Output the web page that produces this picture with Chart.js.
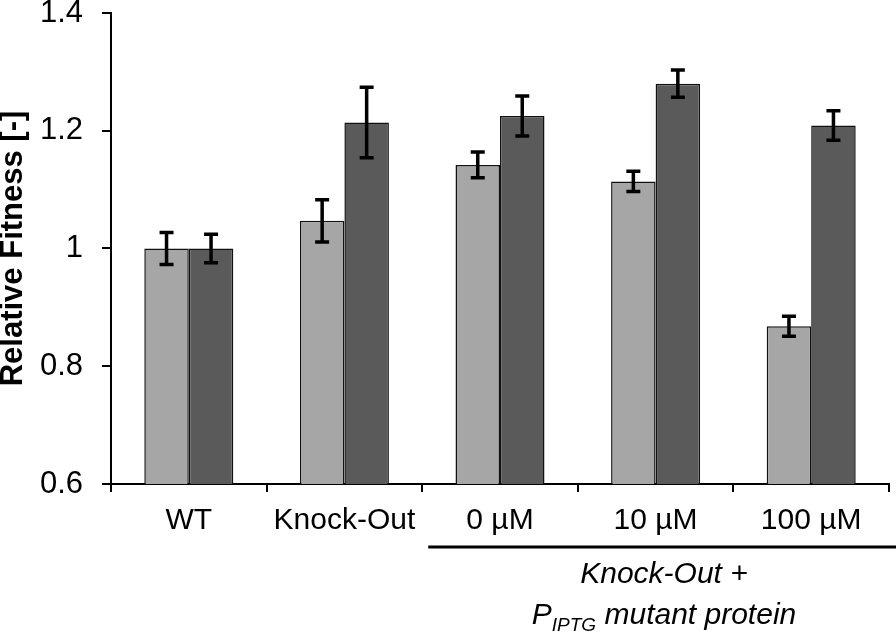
<!DOCTYPE html>
<html>
<head>
<meta charset="utf-8">
<script src="https://cdn.jsdelivr.net/npm/chart.js@4"></script>
<style>
  body { margin: 0; background: #fff; }
  #wrap { width: 896px; height: 637px; position: relative; }
</style>
</head>
<body>
<div id="wrap"><canvas id="fitChart"></canvas></div>
<script>
// data
var labels = ["WT", "Knock-Out", "0 µM", "10 µM", "100 µM"];
var lightVals = [1.0, 1.047, 1.142, 1.114, 0.868];
var lightErr = [0.027, 0.036, 0.022, 0.017, 0.017];
var darkVals = [1.0, 1.214, 1.225, 1.28, 1.209];
var darkErr = [0.024, 0.060, 0.034, 0.023, 0.025];
var yTicks = [0.6, 0.8, 1.0, 1.2, 1.4];

var FONT = "'Liberation Sans', Arial, sans-serif";

// error bars, drawn from the value scale
var errorBars = {
    id: "errorBars",
    afterDatasetsDraw: function(chart) {
        var ctx = chart.ctx;
        var y = chart.scales.y;
        var errs = [lightErr, darkErr];
        ctx.save();
        ctx.strokeStyle = "#000";
        ctx.lineWidth = 3.5;
        chart.data.datasets.forEach(function(ds, i) {
            chart.getDatasetMeta(i).data.forEach(function(bar, j) {
                var v = ds.data[j];
                var top = y.getPixelForValue(v + errs[i][j]);
                var bot = y.getPixelForValue(v - errs[i][j]);
                ctx.beginPath();
                ctx.moveTo(bar.x, top);
                ctx.lineTo(bar.x, bot);
                ctx.moveTo(bar.x - 7, top);
                ctx.lineTo(bar.x + 7, top);
                ctx.moveTo(bar.x - 7, bot);
                ctx.lineTo(bar.x + 7, bot);
                ctx.stroke();
            });
        });
        ctx.restore();
    }
};

// bracket line + italic group caption under the three concentration groups
var groupNote = {
    id: "groupNote",
    afterDraw: function(chart) {
        var ctx = chart.ctx;
        var x = chart.scales.x;
        var step = x.getPixelForValue(1) - x.getPixelForValue(0);
        var x0 = x.getPixelForValue(2) - step / 2 + 6;
        var x1 = chart.width;
        ctx.save();
        ctx.strokeStyle = "#000";
        ctx.lineWidth = 3;
        ctx.beginPath();
        ctx.moveTo(x0, 547);
        ctx.lineTo(x1, 547);
        ctx.stroke();

        ctx.fillStyle = "#000";
        ctx.textBaseline = "alphabetic";
        ctx.textAlign = "left";
        var big = "italic 30px " + FONT;
        var small = "italic 19px " + FONT;
        var cx = 664;

        ctx.font = big;
        var l1 = "Knock-Out +";
        ctx.fillText(l1, cx - ctx.measureText(l1).width / 2, 583);

        var wP = ctx.measureText("P").width;
        var wRest = ctx.measureText(" mutant protein").width;
        ctx.font = small;
        var wSub = ctx.measureText("IPTG").width;
        var start = cx - (wP + wSub + wRest) / 2;
        ctx.font = big;
        ctx.fillText("P", start, 624);
        ctx.font = small;
        ctx.fillText("IPTG", start + wP, 631);
        ctx.font = big;
        ctx.fillText(" mutant protein", start + wP + wSub, 624);
        ctx.restore();
    }
};

var fitChart = new Chart("fitChart", {
    type: "bar",
    data: {
        labels: labels,
        datasets: [{
            label: "light",
            data: lightVals,
            backgroundColor: "#a6a6a6",
            borderColor: "#111",
            borderWidth: 1.5
        }, {
            label: "dark",
            data: darkVals,
            backgroundColor: "#5a5a5a",
            borderColor: "#111",
            borderWidth: 1.5
        }]
    },
    options: {
        responsive: true,
        maintainAspectRatio: false,
        animation: false,
        categoryPercentage: 0.572,
        barPercentage: 1.0,
        layout: { padding: { left: 0, right: 7, top: 13, bottom: 0 } },
        plugins: {
            legend: { display: false },
            tooltip: { enabled: false }
        },
        scales: {
            x: {
                grid: {
                    offset: true,
                    drawOnChartArea: false,
                    tickLength: 8,
                    color: "#000",
                    lineWidth: 2
                },
                border: { color: "#000", width: 2 },
                ticks: {
                    color: "#000",
                    padding: 11,
                    maxRotation: 0,
                    font: { family: FONT, size: 30 }
                },
                afterFit: function(s) {
                    s.height = 153;
                    s.paddingLeft = 0;
                    s.paddingRight = 0;
                }
            },
            y: {
                min: 0.6,
                max: 1.4,
                afterBuildTicks: function(s) {
                    s.ticks = yTicks.map(function(v) { return { value: v }; });
                },
                grid: {
                    drawOnChartArea: false,
                    tickLength: 9,
                    color: "#000",
                    lineWidth: 2
                },
                border: { color: "#000", width: 2 },
                ticks: {
                    color: "#000",
                    padding: 19,
                    font: { family: FONT, size: 31 },
                    callback: function(v) { return String(+Number(v).toFixed(1)); }
                },
                title: {
                    display: true,
                    text: "Relative Fitness [-]",
                    color: "#000",
                    padding: { top: 3, bottom: 0 },
                    font: { family: FONT, size: 31, weight: "bold", lineHeight: 0.7 }
                },
                afterFit: function(s) {
                    s.width = 111;
                    s.paddingTop = 0;
                    s.paddingBottom = 0;
                }
            }
        }
    },
    plugins: [errorBars, groupNote]
});
</script>
</body>
</html>
